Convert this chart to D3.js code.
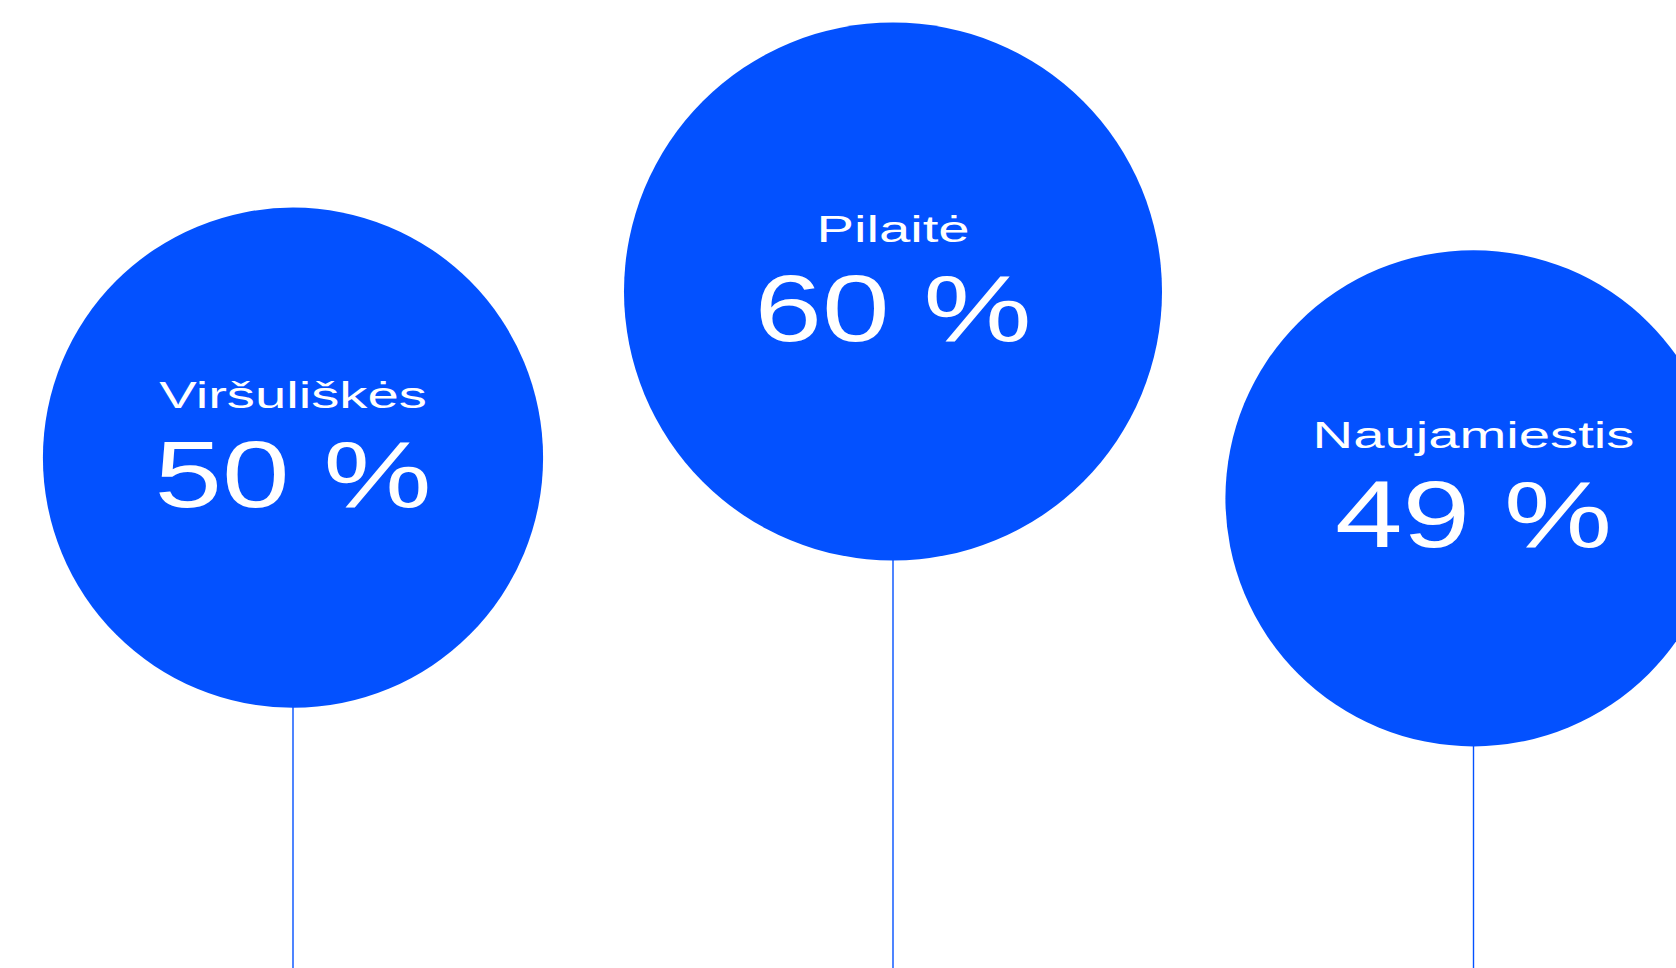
<!DOCTYPE html>
<html>
<head>
<meta charset="utf-8">
<script src="https://cdn.jsdelivr.net/npm/d3@7"></script>
<style>
  html, body { margin: 0; padding: 0; background: #ffffff; }
  svg { display: block; }
</style>
</head>
<body>
<svg id="chart"></svg>
<script>
// ---- data ----
const categories = ["Viršuliškės", "Pilaitė", "Naujamiestis"];
const values = [50, 60, 49];
const unit = "%";

// ---- layout ----
const W = 1676, H = 968;
const BLUE = "#0351ff";

const svg = d3.select("#chart").attr("width", W).attr("height", H);

// horizontal placement per district
const x = d3.scaleOrdinal().domain(categories).range([293, 893, 1473.5]);
// vertical "float height" of each balloon centre
const y = d3.scaleOrdinal().domain(categories).range([457.7, 291.5, 498.3]);
// circle size grows with value
const r = d3.scalePow().exponent(0.4).domain([0, 100]).range([0, 330]);

const data = categories.map((c, i) => ({ name: c, value: values[i] }));

const g = svg.selectAll("g.bubble").data(data).join("g").attr("class", "bubble");

// string lines
g.append("line")
  .attr("x1", d => x(d.name))
  .attr("x2", d => x(d.name))
  .attr("y1", d => y(d.name) + r(d.value) - 1)
  .attr("y2", H)
  .attr("stroke", BLUE)
  .attr("stroke-width", 1.4);

// circles
g.append("circle")
  .attr("cx", d => x(d.name))
  .attr("cy", d => y(d.name))
  .attr("r", d => r(d.value))
  .attr("fill", BLUE);

const FONT = "'Liberation Sans', Arial, sans-serif";

// district label
g.append("text")
  .attr("transform", d => `translate(${x(d.name)},${y(d.name) - 50}) scale(1.52,1)`)
  .attr("text-anchor", "middle")
  .attr("font-family", FONT)
  .attr("font-size", 37)
  .attr("fill", "#ffffff")
  .text(d => d.name);

// value
g.append("text")
  .attr("transform", d => `translate(${x(d.name)},${y(d.name) + 49}) scale(1.28,1)`)
  .attr("text-anchor", "middle")
  .attr("font-family", FONT)
  .attr("font-size", 95)
  .attr("fill", "#ffffff")
  .text(d => `${d.value} ${unit}`);
</script>
</body>
</html>
